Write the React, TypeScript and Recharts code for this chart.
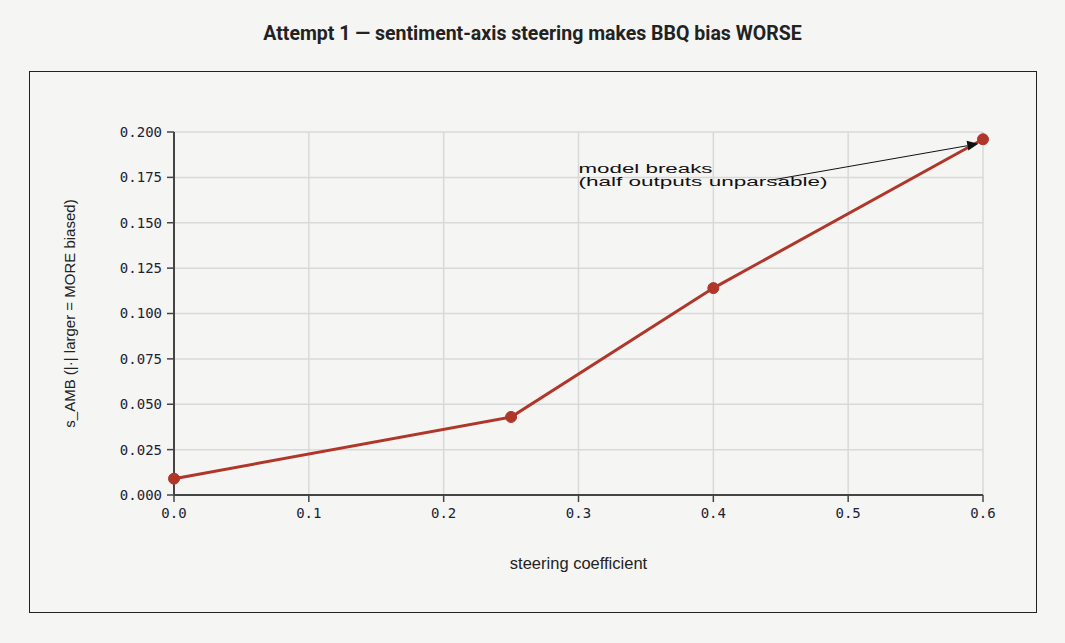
import React from "react";
import {
  LineChart,
  Line,
  XAxis,
  YAxis,
  CartesianGrid,
  ReferenceLine,
  ReferenceDot,
} from "recharts";

const steering = [0, 0.25, 0.4, 0.6];
const sAmb = [0.009, 0.043, 0.114, 0.196];
const xTicks = [0, 0.1, 0.2, 0.3, 0.4, 0.5, 0.6];
const yTicks = [0, 0.025, 0.05, 0.075, 0.1, 0.125, 0.15, 0.175, 0.2];

// annotation anchor (text) and arrow in data units
const noteText = ["model breaks", "(half outputs unparsable)"];
const noteAt = { x: 0.3, y: 0.18 };
const arrowFrom = { x: 0.443, y: 0.1735 };
const arrowTo = { x: 0.5965, y: 0.1935 };

const data = steering.map((s, i) => ({ steering: s, value: sAmb[i] }));

const BG = "#f5f5f3";
const RED = "#b0362a";
const AXIS = "#444";
const MONO = "'DejaVu Sans Mono', monospace";
const SANS = "'Liberation Sans', Arial, sans-serif";

const Arrow = (props: any) => {
  const { x1, y1, x2, y2 } = props;
  const dx = x2 - x1;
  const dy = y2 - y1;
  const len = Math.hypot(dx, dy);
  const ux = dx / len;
  const uy = dy / len;
  const head = 11;
  const half = 5;
  const bx = x2 - ux * head;
  const by = y2 - uy * head;
  return (
    <g>
      <line x1={x1} y1={y1} x2={bx} y2={by} stroke="#111" strokeWidth={1} />
      <polygon
        points={`${x2},${y2} ${bx - uy * half},${by + ux * half} ${bx + uy * half},${by - ux * half}`}
        fill="#111"
      />
    </g>
  );
};

const Note = (props: any) => {
  const { cx, cy } = props;
  return (
    <g fontFamily={SANS} fontSize={12.5} fill="#111">
      <text x={cx} y={cy + 5} textLength={134} lengthAdjust="spacingAndGlyphs">
        {noteText[0]}
      </text>
      <text x={cx} y={cy + 18} textLength={249} lengthAdjust="spacingAndGlyphs">
        {noteText[1]}
      </text>
    </g>
  );
};

export default function App() {
  return (
    <div
      style={{
        position: "fixed",
        left: 0,
        top: 0,
        width: 1065,
        height: 643,
        background: BG,
      }}
    >
      <div
        style={{
          position: "absolute",
          left: 0,
          width: 1065,
          top: 22,
          textAlign: "center",
          fontFamily: "Roboto, sans-serif",
          fontWeight: 700,
          fontSize: 19.5,
          color: "#222",
        }}
      >
        Attempt 1 — sentiment-axis steering makes BBQ bias WORSE
      </div>
      <div
        style={{
          position: "absolute",
          left: 29,
          top: 71,
          width: 1006,
          height: 540,
          border: "1px solid #222",
        }}
      />
      <div style={{ position: "absolute", left: 0, top: 0 }}>
        <LineChart
          width={1065}
          height={643}
          data={data}
          margin={{ top: 132, right: 82, bottom: 118, left: 114 }}
        >
          <CartesianGrid stroke="#d9d9d9" strokeWidth={1.5} />
          <XAxis
            dataKey="steering"
            type="number"
            domain={[0, 0.6]}
            ticks={xTicks}
            tickFormatter={(v: number) => v.toFixed(1)}
            height={30}
            tickSize={7}
            tickMargin={6}
            axisLine={{ stroke: AXIS, strokeWidth: 2 }}
            tickLine={{ stroke: AXIS, strokeWidth: 1.5 }}
            tick={{ fill: "#1d2233", fontSize: 14, fontFamily: MONO }}
            label={{
              value: "steering coefficient",
              position: "insideBottom",
              offset: -44,
              fill: "#222",
              fontSize: 16.5,
              fontFamily: SANS,
            }}
          />
          <YAxis
            dataKey="value"
            type="number"
            domain={[0, 0.2]}
            ticks={yTicks}
            tickFormatter={(v: number) => v.toFixed(3)}
            width={60}
            tickSize={7}
            tickMargin={5}
            axisLine={{ stroke: AXIS, strokeWidth: 2 }}
            tickLine={{ stroke: AXIS, strokeWidth: 1.5 }}
            tick={{ fill: "#1d2233", fontSize: 14, fontFamily: MONO }}
            label={{
              value: "s_AMB (|·| larger = MORE biased)",
              angle: -90,
              position: "insideLeft",
              offset: -44,
              style: { textAnchor: "middle" },
              fill: "#222",
              fontSize: 15,
              fontFamily: SANS,
            }}
          />
          <Line
            dataKey="value"
            stroke={RED}
            strokeWidth={3}
            dot={{ r: 5.5, fill: RED, stroke: RED, strokeWidth: 1 }}
            activeDot={false}
            isAnimationActive={false}
          />
          <ReferenceLine
            segment={[arrowFrom, arrowTo]}
            shape={Arrow}
            ifOverflow="visible"
          />
          <ReferenceDot
            x={noteAt.x}
            y={noteAt.y}
            r={0}
            shape={Note}
            ifOverflow="visible"
          />
        </LineChart>
      </div>
    </div>
  );
}
